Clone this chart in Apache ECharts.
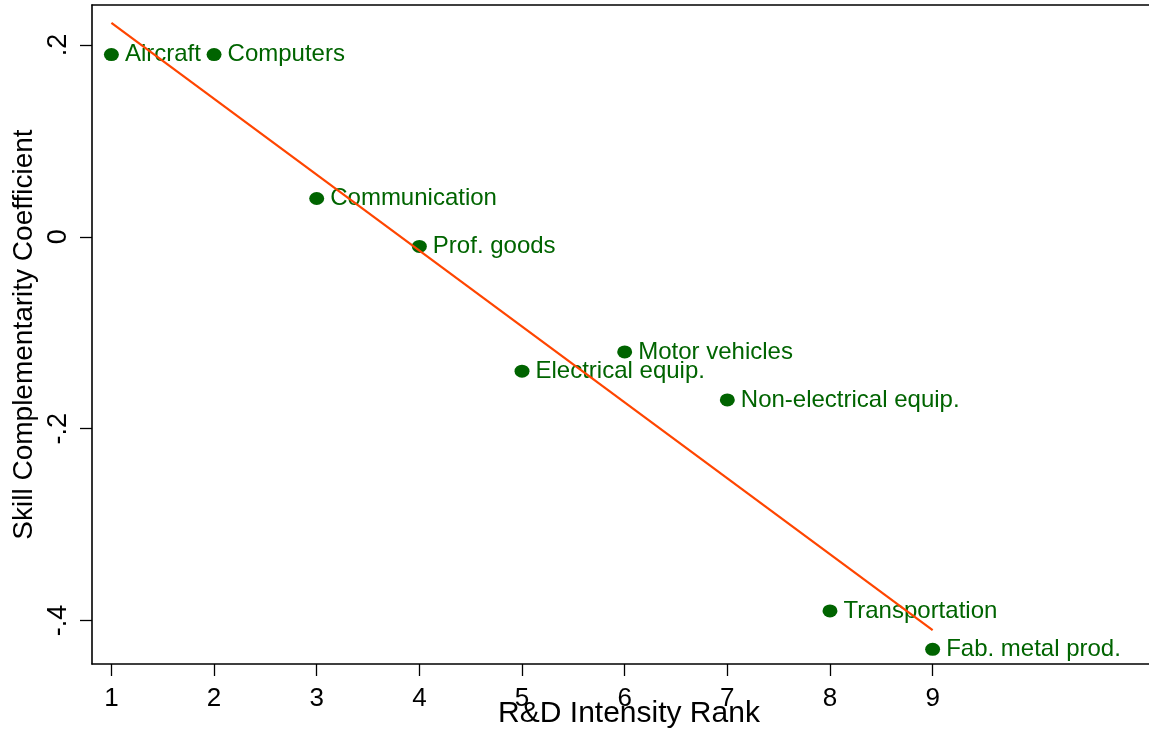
<!DOCTYPE html>
<html>
<head>
<meta charset="utf-8">
<title>Skill complementarity vs R&amp;D intensity</title>
<script src="https://cdn.jsdelivr.net/npm/echarts@6/dist/echarts.min.js"></script>
<style>
  html, body { margin: 0; padding: 0; background: #fff; }
  #chart { width: 1149px; height: 744px; }
</style>
</head>
<body>
<div id="chart"></div>
<script>
// Industries ranked by R&D intensity and their skill complementarity coefficients
const industries = ['Aircraft', 'Computers', 'Communication', 'Prof. goods', 'Electrical equip.',
  'Motor vehicles', 'Non-electrical equip.', 'Transportation', 'Fab. metal prod.'];
const rdRank = [1, 2, 3, 4, 5, 6, 7, 8, 9];
const skillCoef = [0.19, 0.19, 0.04, -0.01, -0.14, -0.12, -0.17, -0.39, -0.43];

// Fitted line endpoints
const fitX = [1, 9];
const fitY = [0.223, -0.410];

// Axis ticks
const xTicks = [1, 2, 3, 4, 5, 6, 7, 8, 9];
const yTicks = [-0.4, -0.2, 0, 0.2];
const yTickLabels = ['-.4', '-.2', '0', '.2'];

const FONT = '"Liberation Sans", Arial, Helvetica, sans-serif';
const GREEN = '#006400';

const chart = echarts.init(document.getElementById('chart'), null, { renderer: 'canvas' });

const points = rdRank.map((x, i) => ({ value: [x, skillCoef[i]], name: industries[i] }));
const fitData = fitX.map((x, i) => [x, fitY[i]]);

const X_MIN = 0.811, X_MAX = 11.137;

chart.setOption({
  animation: false,
  backgroundColor: '#fff',
  grid: {
    left: 92, right: -3, top: 5, bottom: 80,
    outerBoundsMode: 'none',
    containLabel: false,
    show: false
  },
  xAxis: [
    {
      type: 'value',
      min: X_MIN, max: X_MAX,
      name: 'R&D Intensity Rank',
      nameLocation: 'middle',
      nameGap: 35,
      nameMoveOverlap: false,
      nameTextStyle: { fontFamily: FONT, fontSize: 30, color: '#000', padding: [0, 0, 0, 14] },
      axisLine: { show: true, onZero: false, lineStyle: { color: '#000', width: 1.6 } },
      axisTick: { show: true, length: 12, customValues: xTicks, lineStyle: { color: '#000', width: 1.3 } },
      axisLabel: {
        customValues: xTicks, margin: 22,
        fontFamily: FONT, fontSize: 26, color: '#000'
      },
      splitLine: { show: false }
    },
    {
      // top frame line
      type: 'value',
      position: 'top',
      min: X_MIN, max: X_MAX,
      axisLine: { show: true, onZero: false, lineStyle: { color: '#000', width: 1.6 } },
      axisTick: { show: false },
      axisLabel: { show: false },
      splitLine: { show: false }
    }
  ],
  yAxis: {
    type: 'value',
    min: -0.4453, max: 0.2417,
    name: 'Skill Complementarity Coefficient',
    nameLocation: 'middle',
    nameGap: 54,
    nameRotate: 90,
    nameMoveOverlap: false,
    nameTextStyle: { fontFamily: FONT, fontSize: 28, color: '#000' },
    axisLine: { show: true, onZero: false, lineStyle: { color: '#000', width: 1.6 } },
    axisTick: { show: true, length: 12, customValues: yTicks, lineStyle: { color: '#000', width: 1.3 } },
    axisLabel: {
      customValues: yTicks, margin: 20, rotate: 90,
      fontFamily: FONT, fontSize: 27, color: '#000',
      formatter: function (v) {
        const i = yTicks.findIndex(t => Math.abs(t - v) < 1e-9);
        return i >= 0 ? yTickLabels[i] : '';
      }
    },
    splitLine: { show: false }
  },
  series: [
    {
      type: 'scatter',
      z: 2,
      xAxisIndex: 0,
      data: points,
      symbol: 'circle',
      symbolSize: [15, 13],
      itemStyle: { color: GREEN, opacity: 1 },
      label: {
        show: true,
        position: 'right',
        distance: 6,
        formatter: p => p.name,
        fontFamily: FONT,
        fontSize: 24,
        color: GREEN,
        opacity: 1
      },
      emphasis: { disabled: true }
    },
    {
      type: 'line',
      z: 5,
      xAxisIndex: 0,
      data: fitData,
      symbol: 'none',
      lineStyle: { color: '#FF4500', width: 2.2 },
      emphasis: { disabled: true }
    }
  ]
});
</script>
</body>
</html>
